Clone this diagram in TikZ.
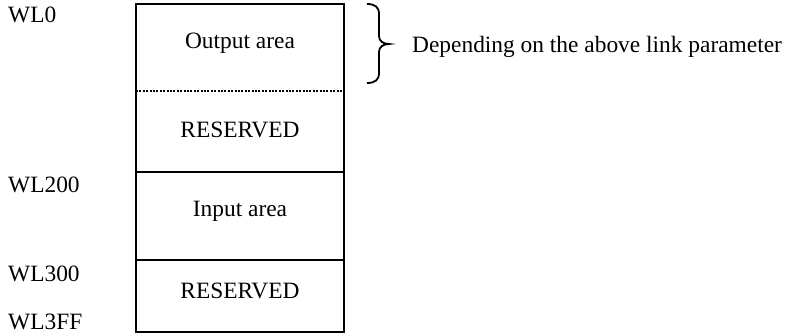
\documentclass[tikz,border=0pt]{standalone}
\usepackage{fontspec}
\setmainfont{Liberation Serif}
\tikzset{
  addr/.style={anchor=west, inner sep=0pt, font=\fontsize{23.4}{28}\selectfont},
  area/.style={inner sep=0pt, font=\fontsize{23.4}{28}\selectfont},
  sep/.style={line width=2pt},
}
\begin{document}
\begin{tikzpicture}[x=1pt,y=-1pt]
    \useasboundingbox (0,0) rectangle (799,334);

    % memory map
    \draw[line width=2pt] (136,4) coordinate (tl) rectangle (344,332) coordinate (br);
    \coordinate (d1) at (136,91);  \coordinate (d2) at (344,91);
    \coordinate (s1) at (136,172); \coordinate (s2) at (344,172);
    \coordinate (r1) at (136,260); \coordinate (r2) at (344,260);
    \draw[line width=1.2pt, dash pattern=on 2pt off 1.4pt] (d1) -- (d2);
    \draw[sep] (s1) -- (s2);
    \draw[sep] (r1) -- (r2);

    \node[area] (out)  at (240,43)  {Output area};
    \node[area] (res1) at (240,130) {RESERVED};
    \node[area] (in)   at (240,211) {Input area};
    \node[area] (res2) at (240,291) {RESERVED};

    % addresses
    \node[addr] (wl0)   at (8,15)  {WL0};
    \node[addr] (wl200) at (8,185) {WL200};
    \node[addr] (wl300) at (8,274) {WL300};
    \node[addr] (wl3ff) at (8,321.5) {WL3FF};

    % brace
    \draw[line width=1.8pt] (367,4) .. controls (375,4) and (379,7) .. (379,14) -- (379,36)
        .. controls (379,41) and (383,44) .. (389,44) coordinate (tip)
        .. controls (383,44) and (379,47) .. (379,52) -- (379,73)
        .. controls (379,80) and (375,83) .. (367,83);
    \node[addr] (note) at (412,47) {Depending on the above link parameter};
\end{tikzpicture}
\end{document}
